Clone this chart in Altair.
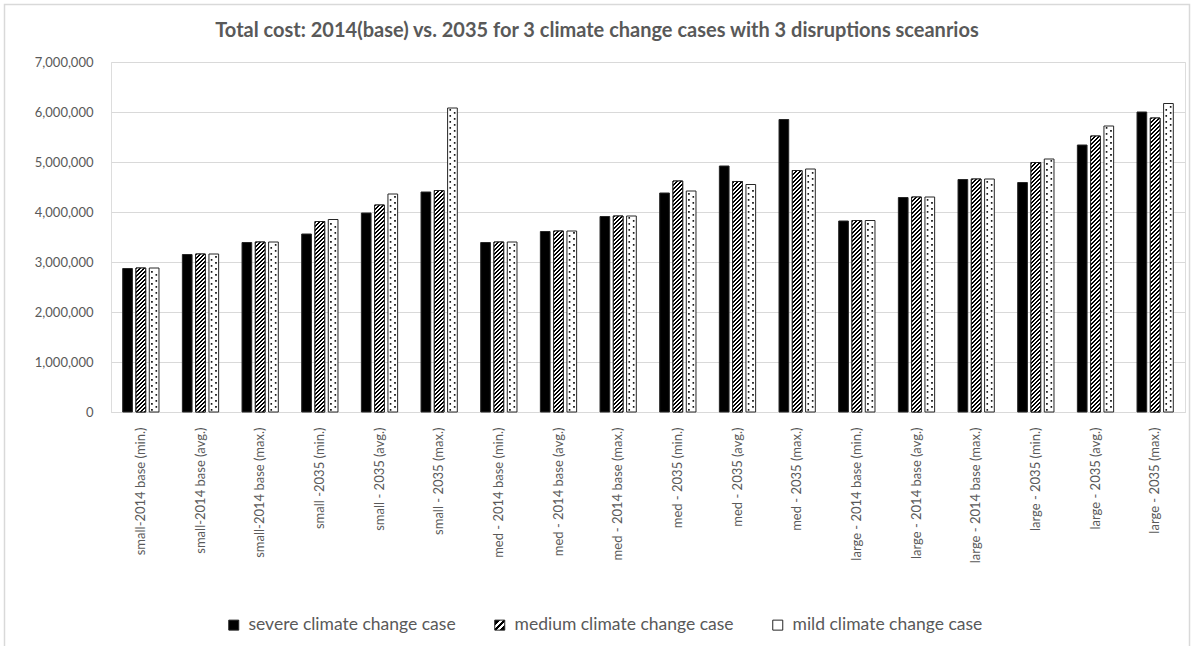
import altair as alt

# ---- chart values -------------------------------------------------------
CATEGORIES = [
    "small-2014 base (min.)", "small-2014 base (avg.)", "small-2014 base (max.)",
    "small -2035 (min.)", "small - 2035 (avg.)", "small - 2035 (max.)",
    "med - 2014 base (min.)", "med - 2014 base (avg.)", "med - 2014 base (max.)",
    "med - 2035 (min.)", "med - 2035 (avg.)", "med - 2035 (max.)",
    "large - 2014 base (min.)", "large - 2014 base (avg.)", "large - 2014 base (max.)",
    "large - 2035 (min.)", "large - 2035 (avg.)", "large - 2035 (max.)",
]
SERIES = ["severe climate change case", "medium climate change case", "mild climate change case"]

SEVERE = [2870000, 3150000, 3390000, 3560000, 3980000, 4400000,
          3390000, 3610000, 3910000, 4380000, 4920000, 5850000,
          3820000, 4290000, 4650000, 4590000, 5340000, 6000000]
MEDIUM = [2880000, 3160000, 3400000, 3810000, 4140000, 4430000,
          3400000, 3620000, 3920000, 4620000, 4610000, 4830000,
          3830000, 4300000, 4660000, 4990000, 5520000, 5880000]
MILD = [2880000, 3160000, 3400000, 3850000, 4360000, 6080000,
        3400000, 3620000, 3920000, 4420000, 4550000, 4860000,
        3830000, 4300000, 4660000, 5060000, 5720000, 6170000]

Y_TICKS = [0, 1000000, 2000000, 3000000, 4000000, 5000000, 6000000, 7000000]
TITLE = "Total cost: 2014(base) vs. 2035 for 3 climate change cases with 3 disruptions sceanrios"

# ---- styling ------------------------------------------------------------
FONT = "Lato"
TEXT_GREY = "#595959"
GRID_GREY = "#d9d9d9"
FRAME_GREY = "#d9d9d9"
EDGE = "#262626"

PLOT_W, PLOT_H = 1074, 350
Y_MAX = 7000000

X_PAD_INNER = 0.392      # gap between category groups
OFF_PAD_INNER = 0.27     # gap between bars inside a group

group_step = PLOT_W / len(CATEGORIES)
group_band = group_step * (1 - X_PAD_INNER)
bar_step = group_band / (len(SERIES) - OFF_PAD_INNER)
bar_w = bar_step * (1 - OFF_PAD_INNER)


def hatch_fill(value, idx, period=4.0):
    """Diagonal '/' stripes as a striped linear gradient fitted to one bar."""
    h = value / Y_MAX * PLOT_H
    w = bar_w
    span = w + h
    stops = []
    k = 0
    while k * period < span:
        a = k * period / span
        b = min((k * period + period * 0.5) / span, 1.0)
        c = min((k + 1) * period / span, 1.0)
        stops += [
            {"offset": round(a, 5), "color": "#000000"},
            {"offset": round(b, 5), "color": "#000000"},
            {"offset": round(b, 5), "color": "#ffffff"},
            {"offset": round(c, 5), "color": "#ffffff"},
        ]
        k += 1
    d = w * w + h * h
    return {"id": f"hatch_fill_{idx}", "gradient": "linear",
            "x1": 0, "y1": 0, "x2": w * span / d, "y2": h * span / d,
            "stops": stops}


# ---- tables built from the arrays --------------------------------------
bar_rows = []
for cat, s, m, l in zip(CATEGORIES, SEVERE, MEDIUM, MILD):
    bar_rows.append({"category": cat, "series": SERIES[0], "value": s})
    bar_rows.append({"category": cat, "series": SERIES[1], "value": m})
    bar_rows.append({"category": cat, "series": SERIES[2], "value": l})

hatch_rows = [
    {"category": cat, "series": SERIES[1], "value": m, "hatch": hatch_fill(m, i)}
    for i, (cat, m) in enumerate(zip(CATEGORIES, MEDIUM))
]

# dotted fill for the mild bars: alternating left/right dots up each bar
DOT_STEP = 60000
dot_rows = []
for cat, l in zip(CATEGORIES, MILD):
    pos, k = DOT_STEP * 0.7, 0
    while pos < l - DOT_STEP * 0.5:
        dot_rows.append({"category": cat, "series": SERIES[2], "pos": pos,
                         "side": "left" if k % 2 == 0 else "right"})
        pos += DOT_STEP
        k += 1

DOT_LEFT = "M-0.6,-0.16H-0.28V0.16H-0.6Z"
DOT_RIGHT = "M0.28,-0.16H0.6V0.16H0.28Z"

LEGEND_HATCH = (
    "{gradient: 'linear', x1: 0, y1: 0, x2: 1, y2: 1, stops: ["
    "{offset: 0, color: '#000000'}, {offset: 0.28, color: '#000000'},"
    "{offset: 0.28, color: '#ffffff'}, {offset: 0.42, color: '#ffffff'},"
    "{offset: 0.42, color: '#000000'}, {offset: 0.58, color: '#000000'},"
    "{offset: 0.58, color: '#ffffff'}, {offset: 0.72, color: '#ffffff'},"
    "{offset: 0.72, color: '#000000'}, {offset: 1, color: '#000000'}]}"
)

# ---- shared encodings ---------------------------------------------------
x_enc = alt.X(
    "category:N", sort=CATEGORIES,
    scale=alt.Scale(domain=CATEGORIES, paddingInner=X_PAD_INNER, paddingOuter=X_PAD_INNER / 2),
    axis=alt.Axis(title=None, labelAngle=270, labelPadding=15, ticks=False,
                  domainColor=GRID_GREY, domainWidth=1, labelFont=FONT,
                  labelFontSize=13, labelColor=TEXT_GREY, labelLimit=300),
)
off_enc = alt.XOffset(
    "series:N", sort=SERIES,
    scale=alt.Scale(domain=SERIES, paddingInner=OFF_PAD_INNER, paddingOuter=0),
)
y_scale = alt.Scale(domain=[0, Y_MAX], nice=False, zero=True)
y_axis = alt.Axis(title=None, values=Y_TICKS, format=",d", ticks=False, domain=False,
                  gridColor=GRID_GREY, gridWidth=1, labelFont=FONT, labelFontSize=13,
                  labelColor=TEXT_GREY, labelPadding=18)

bars = alt.Chart(alt.Data(values=bar_rows)).mark_bar(stroke=EDGE, strokeWidth=1).encode(
    x=x_enc,
    xOffset=off_enc,
    y=alt.Y("value:Q", scale=y_scale, axis=y_axis),
    fill=alt.Fill(
        "series:N", sort=SERIES,
        scale=alt.Scale(domain=SERIES,
                        range=["#000000", alt.ExprRef(expr=LEGEND_HATCH), "#ffffff"]),
        legend=alt.Legend(
            title=None, orient="none", direction="horizontal", legendX=114, legendY=554,
            symbolType="square", symbolSize=100, symbolStrokeColor=EDGE,
            symbolStrokeWidth=1, labelFont=FONT, labelFontSize=17.5,
            labelColor=TEXT_GREY, labelOffset=6, columnPadding=35, padding=0,
            labelLimit=400,
        ),
    ),
)

hatch = alt.Chart(alt.Data(values=hatch_rows)).mark_bar(stroke=EDGE, strokeWidth=1).encode(
    x=alt.X("category:N", sort=CATEGORIES, title=None),
    xOffset=alt.XOffset("series:N", sort=SERIES),
    y=alt.Y("value:Q", title=None),
    fill=alt.Fill("hatch:N", scale=None, legend=None),
)

dots = alt.Chart(alt.Data(values=dot_rows)).mark_point(
    filled=True, size=100, color="#000000", strokeWidth=0, opacity=1
).encode(
    x=alt.X("category:N", sort=CATEGORIES, title=None),
    xOffset=alt.XOffset("series:N", sort=SERIES),
    y=alt.Y("pos:Q", title=None),
    shape=alt.Shape("side:N", scale=alt.Scale(domain=["left", "right"], range=[DOT_LEFT, DOT_RIGHT]),
                    legend=None),
)

# light outer frame around the whole figure
frame = alt.Chart(alt.Data(values=[{}])).mark_rect(
    fill="transparent", stroke=FRAME_GREY, strokeWidth=1.5
).encode(
    x=alt.value(-106.5), x2=alt.value(1078.5),
    y=alt.value(-57.5), y2=alt.value(640),
)

chart = alt.layer(frame, bars, hatch, dots).properties(
    width=PLOT_W,
    height=PLOT_H,
    title=alt.TitleParams(TITLE, font=FONT, fontSize=20, fontWeight="bold", color=TEXT_GREY,
                          anchor="middle", dx=-51, offset=-37),
    padding={"left": 111, "top": 62, "right": 8, "bottom": 234},
    autosize=alt.AutoSizeParams(type="none"),
).configure_view(strokeWidth=0).configure(background="#ffffff")

chart.save("out.html", embed_options={"renderer": "svg", "actions": False})
